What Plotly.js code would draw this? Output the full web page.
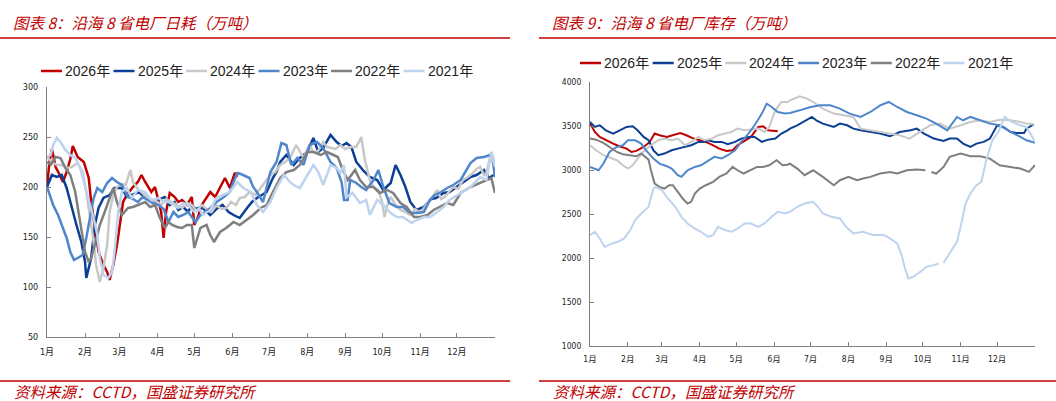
<!DOCTYPE html>
<html>
<head>
<meta charset="utf-8">
<script src="https://cdn.plot.ly/plotly-3.0.1.min.js"></script>
<style>
  body { margin: 0; background: #fff; }
  #chart { width: 1056px; height: 401px; }
</style>
</head>
<body>
<div id="chart"></div>
<script>
// 月份刻度 (按一年中的第几天)
const monthDays = [0, 31, 59, 90, 120, 151, 181, 212, 243, 273, 304, 334, 365];
const monthLabels = ['1月', '2月', '3月', '4月', '5月', '6月', '7月', '8月', '9月', '10月', '11月', '12月', ''];
const years = ['2026年', '2025年', '2024年', '2023年', '2022年', '2021年'];
const colors = ['#C00000', '#0B3F95', '#C8C8C8', '#4F86CC', '#7F7F7F', '#BED3EE'];

// 图表8：日耗（万吨）
const burnDay26 = [0,2,4,7,10,13,16,19,21,25,30,34,36,39,42,46,49,51,54,57,60,62,65,70,74,77,80,85,88,91,93,95,97,100,104,107,110,114,118,120,123,126,130,133,137,141,145,149,153,155];
const burnVal26 = [200,225,238,220,213,205,215,228,241,230,225,209,185,162,135,122,115,107,122,142,165,185,192,200,205,212,205,195,200,185,175,149,175,194,190,185,187,182,190,162,170,182,190,195,190,200,209,199,214,210];

const burnDay25 = [0,4,8,12,16,20,24,28,31,32,34,36,39,42,46,51,55,61,65,69,75,80,88,92,96,100,104,107,111,115,118,121,126,133,138,143,148,152,157,163,167,171,175,179,184,187,190,195,201,206,212,217,221,225,231,236,240,244,248,252,258,263,269,274,280,284,288,292,296,301,307,313,317,323,328,334,340,345,350,356,360,364];
const burnVal25 = [200,212,210,212,199,179,162,145,125,109,119,129,162,179,189,192,199,199,190,192,195,189,185,188,190,182,185,177,180,175,182,178,180,172,178,182,175,172,169,179,185,189,192,195,209,215,225,232,222,229,235,249,235,239,252,245,241,244,240,225,216,210,207,197,204,222,212,200,185,177,180,188,189,194,195,200,205,210,212,217,209,212];

const burnDay24 = [0,4,8,12,16,20,25,29,32,35,38,40,43,46,49,51,54,57,61,64,66,68,70,74,77,81,85,89,93,97,102,106,110,114,118,122,126,130,134,138,142,146,150,154,157,161,165,170,174,178,182,186,190,194,198,203,206,209,212,214,217,220,223,225,228,231,235,239,243,247,252,256,259,263,266,270,273,275,278,280,284,288,292,296,300,304,308,312,315,318,321,324,328,331,335,339,343,347,350,353,356,358,362,365];
const burnVal24 = [230,225,222,222,219,220,224,215,195,172,145,122,105,119,142,175,192,200,203,202,210,217,205,198,195,190,185,186,182,188,185,182,179,184,182,176,182,178,175,182,178,179,185,182,189,190,195,192,199,205,212,215,222,225,229,242,235,229,238,242,235,235,240,245,240,239,238,242,238,240,240,250,227,207,200,197,185,170,185,190,182,177,175,172,178,174,180,187,192,197,188,190,196,200,198,207,210,214,218,220,212,214,235,224];

const burnDay23 = [0,3,5,9,13,16,19,22,25,29,32,35,38,41,45,49,53,57,61,66,70,74,78,82,86,91,95,99,103,107,111,115,118,121,125,129,133,138,143,149,152,155,158,160,165,168,171,176,179,182,187,191,195,199,204,209,214,220,225,231,236,240,242,245,247,252,256,260,266,270,274,279,285,290,296,301,307,312,316,321,326,331,337,341,345,350,356,361,363,365];
const burnVal23 = [200,190,182,172,159,149,135,127,129,132,149,169,189,199,195,204,209,205,202,190,188,185,190,187,184,182,178,165,175,170,172,175,170,165,172,175,179,185,189,195,205,214,213,212,209,200,195,185,200,215,225,244,242,222,229,222,242,245,239,225,219,205,187,187,207,204,200,197,207,217,200,184,180,180,174,174,175,187,192,195,199,202,207,215,224,229,230,232,228,210];

const burnDay22 = [0,3,7,11,15,19,23,26,28,31,34,36,39,43,47,51,54,57,61,66,70,74,80,84,88,92,96,99,102,106,110,114,118,120,123,125,130,133,136,141,146,152,157,163,168,174,179,184,190,195,201,206,212,217,223,228,233,237,240,245,251,255,260,266,271,277,282,288,293,299,304,310,315,320,326,331,337,345,353,358,362,365];
const burnVal22 = [225,222,230,229,219,212,195,172,155,135,125,129,142,162,175,189,199,185,172,179,180,182,185,180,182,169,159,165,162,160,159,162,162,139,150,159,162,152,145,155,159,165,162,167,172,179,182,195,209,215,217,222,235,235,232,235,232,230,220,207,217,207,200,200,194,197,194,184,180,170,170,172,177,180,184,182,194,200,204,207,209,194];

const burnDay21 = [0,3,5,8,11,15,19,23,27,30,33,35,38,41,43,46,50,53,55,58,61,65,69,74,80,85,91,95,99,103,107,111,115,120,124,127,133,138,144,149,155,160,166,171,176,182,187,193,198,201,206,212,217,221,225,231,236,239,242,244,249,255,260,263,269,274,280,285,290,297,301,307,312,318,323,328,337,345,353,358,362,365];
const burnVal21 = [230,232,242,249,245,237,232,229,219,205,189,182,169,152,129,112,109,115,135,175,195,199,189,197,195,187,189,185,185,182,179,184,182,175,178,172,177,189,192,195,205,199,195,182,175,185,199,212,205,202,199,212,222,215,202,222,219,214,222,190,194,184,187,172,187,182,174,170,170,164,167,170,170,175,180,187,194,200,210,207,234,220];

// 图表9：库存（万吨）
const stockDay26 = [0,4,8,13,19,24,30,34,38,44,49,53,57,63,68,74,79,85,90,95,101,106,112,117,121,127,132,138,142,146,152,154];
const stockVal26 = [3527,3432,3376,3338,3300,3270,3243,3205,3217,3262,3319,3414,3395,3376,3395,3421,3395,3357,3338,3319,3281,3243,3217,3224,3281,3338,3376,3489,3497,3451,3444,3440];

const stockDay25 = [0,4,8,13,19,24,30,35,39,44,48,52,56,61,67,72,78,83,89,93,97,102,108,113,119,124,130,135,141,146,152,157,162,164,170,175,182,186,191,200,205,211,216,222,230,238,246,254,263,268,274,282,290,295,301,306,312,317,323,328,334,339,345,350,356,358,364];
const stockVal25 = [3546,3489,3508,3451,3414,3451,3489,3497,3451,3376,3338,3224,3168,3187,3224,3243,3262,3281,3319,3319,3338,3319,3319,3292,3319,3357,3376,3376,3319,3345,3357,3414,3451,3470,3508,3546,3603,3560,3527,3489,3527,3508,3470,3451,3432,3414,3383,3432,3451,3470,3414,3357,3330,3357,3357,3300,3262,3300,3319,3357,3508,3489,3432,3421,3421,3470,3520];

const stockDay24 = [0,5,11,16,22,27,31,35,39,45,50,56,61,67,72,78,83,89,94,100,105,111,116,121,127,132,138,143,147,152,157,162,164,172,178,183,191,200,208,216,222,230,238,246,254,262,271,279,287,295,304,312,320,328,336,345,353,358,364];
const stockVal24 = [3281,3224,3168,3141,3111,3054,3016,3054,3130,3224,3281,3338,3357,3338,3357,3281,3319,3376,3338,3357,3395,3414,3432,3470,3451,3460,3470,3432,3489,3678,3773,3773,3792,3837,3811,3773,3697,3641,3622,3603,3470,3451,3432,3414,3395,3357,3432,3508,3527,3470,3508,3546,3565,3546,3572,3565,3546,3527,3520];

const stockDay23 = [0,4,7,11,16,22,27,31,37,42,46,52,57,63,67,72,75,80,86,91,97,102,108,113,119,124,130,135,141,145,149,154,160,164,172,181,189,197,205,213,222,230,238,245,252,260,268,276,284,293,301,306,312,320,328,336,345,353,358,365];
const stockVal23 = [3035,3016,2997,3073,3205,3262,3281,3338,3338,3300,3224,3130,3073,3043,3016,2941,2922,2997,3035,3054,3111,3149,3130,3168,3224,3319,3414,3508,3641,3754,3716,3659,3641,3648,3678,3716,3735,3735,3697,3641,3603,3659,3735,3773,3716,3659,3622,3584,3527,3451,3603,3565,3603,3565,3527,3508,3432,3376,3338,3308];

const stockDay22 = [0,5,11,16,22,27,33,38,42,48,50,53,57,61,65,68,72,76,80,83,86,90,95,101,106,112,117,121,126,131,137,142,147,153,158,162,164,170,176,183,191,200,205,212,219,224,230,238,246,252,260,268,275,277,280,284,290,295,304,312,320,328,336,345,353,360,365];
const stockVal22 = [3357,3345,3308,3262,3205,3179,3168,3156,3187,3118,2997,2846,2808,2789,2827,2827,2752,2676,2619,2638,2733,2789,2827,2865,2922,2960,3035,2997,2960,2997,3035,3035,3054,3111,3054,3060,3073,3016,2941,2997,2922,2827,2884,2922,2884,2903,2922,2960,2978,2960,2997,3005,2997,null,2978,2960,3035,3149,3187,3156,3156,3130,3054,3035,3016,2978,3054];

const stockDay21 = [0,4,8,12,18,23,28,33,37,42,48,52,54,59,64,70,75,80,86,91,97,101,105,111,116,121,127,132,138,143,149,154,160,164,170,176,183,187,191,198,205,210,216,224,232,241,246,252,256,258,261,265,271,276,282,286,288,290,295,301,304,308,312,317,321,325,330,335,340,346,353,358,362,365];
const stockVal21 = [2260,2298,2222,2127,2165,2184,2222,2316,2430,2506,2581,2789,2808,2770,2676,2581,2468,2392,2335,2298,2241,2260,2354,2316,2298,2335,2392,2392,2354,2392,2468,2525,2506,2525,2581,2619,2638,2581,2506,2468,2449,2354,2279,2298,2260,2260,2222,2165,2014,1900,1768,1787,1844,1900,1919,1938,null,1946,2052,2184,2354,2619,2733,2827,2865,3111,3338,3432,3603,3546,3508,3489,3395,3319];

const burnDays = [burnDay26, burnDay25, burnDay24, burnDay23, burnDay22, burnDay21];
const burnVals = [burnVal26, burnVal25, burnVal24, burnVal23, burnVal22, burnVal21];
const stockDays = [stockDay26, stockDay25, stockDay24, stockDay23, stockDay22, stockDay21];
const stockVals = [stockVal26, stockVal25, stockVal24, stockVal23, stockVal22, stockVal21];

// 像素 -> paper 坐标
const W = 1056, H = 401;
const px = x => x / W;
const py = y => 1 - y / H;

const red = '#C00000';
const axisGray = '#808080';
const tickFamily = "'DejaVu Sans Condensed', 'DejaVu Sans', 'Noto Sans CJK SC', sans-serif";
const legendFamily = "'Liberation Sans', 'Noto Sans CJK SC', sans-serif";
const cjkFamily = "'Noto Sans CJK SC', sans-serif";

const traces = [];
years.forEach((name, i) => {
  traces.push({
    x: burnDays[i], y: burnVals[i], name: name,
    type: 'scatter', mode: 'lines',
    line: { color: colors[i], width: 2.5 },
    xaxis: 'x', yaxis: 'y',
    connectgaps: false, hoverinfo: 'skip'
  });
});
years.forEach((name, i) => {
  traces.push({
    x: stockDays[i], y: stockVals[i], name: name,
    type: 'scatter', mode: 'lines',
    line: { color: colors[i], width: 2 },
    xaxis: 'x2', yaxis: 'y2',
    connectgaps: false, hoverinfo: 'skip'
  });
});

function xAxis(domain, anchor, size, standoff) {
  return {
    domain: domain, anchor: anchor, range: [0, 365],
    tickmode: 'array', tickvals: monthDays, ticktext: monthLabels,
    ticks: 'inside', ticklen: 4, tickcolor: axisGray, tickwidth: 1,
    showline: true, linecolor: axisGray, linewidth: 1,
    showgrid: false, zeroline: false,
    ticklabelstandoff: standoff,
    tickfont: { family: tickFamily, size: size, color: '#222' }
  };
}
function yAxis(domain, anchor, range, dtick, size) {
  return {
    domain: domain, anchor: anchor, range: range,
    tick0: range[0], dtick: dtick,
    ticks: 'inside', ticklen: 4, tickcolor: axisGray, tickwidth: 1,
    showline: true, linecolor: axisGray, linewidth: 1,
    showgrid: false, zeroline: false,
    ticklabelstandoff: 6,
    tickfont: { family: tickFamily, size: size, color: '#222' }
  };
}

// 图例：短线 + 年份文字，按固定间距排开
function legendItems(startX, y, pitch) {
  const shapes = [], notes = [];
  years.forEach((name, i) => {
    const x0 = startX + i * pitch;
    shapes.push({ type: 'line', xref: 'paper', yref: 'paper',
      x0: px(x0), x1: px(x0 + 21), y0: py(y), y1: py(y),
      line: { color: colors[i], width: 2.5 } });
    notes.push({ text: name, xref: 'paper', yref: 'paper', x: px(x0 + 22), y: py(y),
      xanchor: 'left', yanchor: 'middle', showarrow: false,
      font: { family: legendFamily, size: 14, color: '#222' } });
  });
  return { shapes, notes };
}

function redLine(x0, x1, y) {
  return { type: 'line', xref: 'paper', yref: 'paper', x0: px(x0), x1: px(x1), y0: py(y), y1: py(y),
           line: { color: red, width: 1.5 } };
}
function note(text, x, y) {
  return { text: '<i>' + text + '</i>', xref: 'paper', yref: 'paper', x: px(x), y: py(y),
           xanchor: 'left', yanchor: 'middle', showarrow: false,
           font: { family: cjkFamily, size: 15.5, color: red } };
}

const leftLegend = legendItems(41, 71, 72.5);
const rightLegend = legendItems(580, 63, 72.7);

const layout = {
  width: W, height: H,
  margin: { l: 0, r: 0, t: 0, b: 0 },
  paper_bgcolor: '#fff', plot_bgcolor: 'rgba(0,0,0,0)',
  showlegend: false,
  xaxis: xAxis([px(47), px(495)], 'y', 9, 6),
  yaxis: yAxis([py(337), py(87)], 'x', [50, 300], 50, 9),
  xaxis2: xAxis([px(590), px(1035)], 'y2', 8.5, 5),
  yaxis2: yAxis([py(346), py(82)], 'x2', [1000, 4000], 500, 8.5),
  shapes: [
    redLine(0, 510, 38), redLine(539, 1056, 38),
    redLine(0, 510, 381), redLine(539, 1056, 381)
  ].concat(leftLegend.shapes, rightLegend.shapes),
  annotations: [
    note('图表 8：沿海 8 省电厂日耗（万吨）', 11, 22),
    note('图表 9：沿海 8 省电厂库存（万吨）', 550, 22),
    note('资料来源：CCTD，国盛证券研究所', 12, 391),
    note('资料来源：CCTD，国盛证券研究所', 551, 391)
  ].concat(leftLegend.notes, rightLegend.notes)
};

Plotly.newPlot('chart', traces, layout, { staticPlot: true, displayModeBar: false });
</script>
</body>
</html>
